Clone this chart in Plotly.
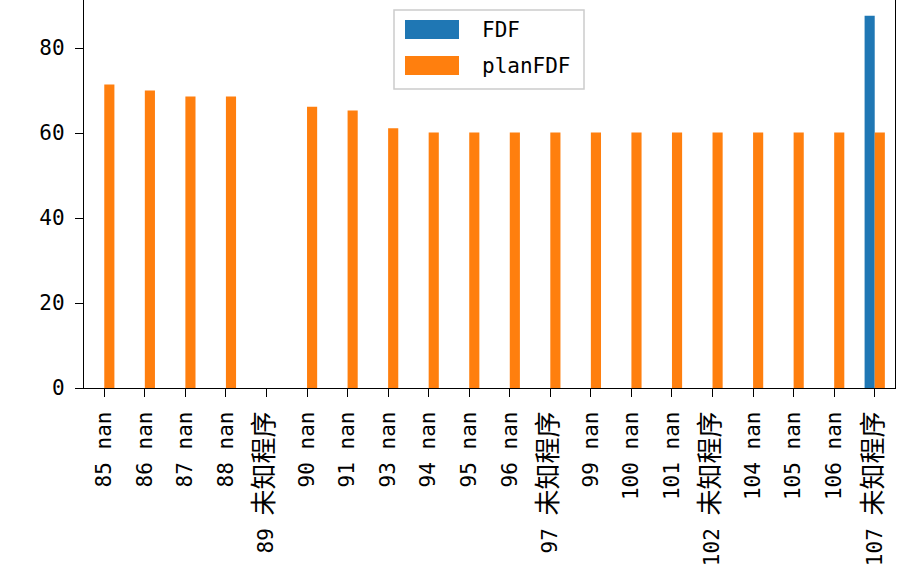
import plotly.graph_objects as go

# ---- data ----
ids = [85, 86, 87, 88, 89, 90, 91, 93, 94, 95, 96, 97, 99, 100, 101, 102, 104, 105, 106, 107]
progs = ["nan", "nan", "nan", "nan", "未知程序", "nan", "nan", "nan", "nan", "nan",
         "nan", "未知程序", "nan", "nan", "nan", "未知程序", "nan", "nan", "nan", "未知程序"]
fdf = [None, None, None, None, None, None, None, None, None, None,
       None, None, None, None, None, None, None, None, None, 87.6]
plan_fdf = [71.4, 70.0, 68.6, 68.6, None, 66.2, 65.3, 61.1, 60.1, 60.1,
            60.1, 60.1, 60.1, 60.1, 60.1, 60.1, 60.1, 60.1, 60.1, 60.1]
y_ticks = [0, 20, 40, 60, 80]

labels = [f"{i} {p}" for i, p in zip(ids, progs)]


def tick_html(i, p):
    if p == "nan":
        tail = p
    else:
        tail = f'<span style="font-size:26px">{p}</span>'
    return f"{i}\u00a0{tail}"


tick_text = [tick_html(i, p) for i, p in zip(ids, progs)]

FONT = "DejaVu Sans Mono, Noto Sans CJK SC, sans-serif"
BLUE = "#1f77b4"
ORANGE = "#ff7f0e"

W, H = 897, 572
ML, MR, MT, MB = 84, 2, 0, 184
PW, PH = W - ML - MR, H - MT - MB

fig = go.Figure()
fig.add_trace(go.Bar(name="FDF", x=labels, y=fdf, marker_color=BLUE,
                     marker_line_width=0, showlegend=False))
fig.add_trace(go.Bar(name="planFDF", x=labels, y=plan_fdf, marker_color=ORANGE,
                     marker_line_width=0, showlegend=False))


def px_x(p):
    return (p - ML) / PW


def px_y(p):
    return (H - MB - p) / PH


# custom legend (matplotlib style)
shapes = [
    dict(type="rect", xref="paper", yref="paper",
         x0=px_x(394), x1=px_x(584), y0=px_y(89), y1=px_y(10),
         line=dict(color="#cccccc", width=1.5), fillcolor="rgba(255,255,255,0.8)", layer="above"),
    dict(type="rect", xref="paper", yref="paper",
         x0=px_x(405), x1=px_x(459), y0=px_y(39), y1=px_y(20),
         line=dict(width=0), fillcolor=BLUE, layer="above"),
    dict(type="rect", xref="paper", yref="paper",
         x0=px_x(405), x1=px_x(459), y0=px_y(75), y1=px_y(56),
         line=dict(width=0), fillcolor=ORANGE, layer="above"),
]
annotations = [
    dict(text="FDF", xref="paper", yref="paper", x=px_x(480), y=px_y(30),
         xanchor="left", yanchor="middle", showarrow=False,
         font=dict(family=FONT, size=21, color="black")),
    dict(text="planFDF", xref="paper", yref="paper", x=px_x(480), y=px_y(66),
         xanchor="left", yanchor="middle", showarrow=False,
         font=dict(family=FONT, size=21, color="black")),
]

fig.update_layout(
    width=W, height=H,
    margin=dict(l=ML, r=MR, t=MT, b=MB, pad=0, autoexpand=False),
    paper_bgcolor="white", plot_bgcolor="white",
    barmode="group", bargap=0.5, bargroupgap=0,
    font=dict(family=FONT, size=21, color="black"),
    shapes=shapes, annotations=annotations,
    showlegend=False,
)
fig.update_xaxes(
    type="category", range=[-0.5, len(labels) - 0.5], automargin=False,
    tickvals=labels, ticktext=tick_text,
    showline=True, linecolor="black", linewidth=1.3, mirror=False,
    ticks="outside", ticklen=8, tickwidth=1.3, tickcolor="black",
    tickangle=-90, ticklabelstandoff=6,
    showgrid=False, zeroline=False,
    tickfont=dict(family=FONT, size=21, color="black"),
)
fig.update_yaxes(
    range=[0, PH / 4.25], automargin=False,
    tickvals=y_ticks, ticktext=[str(v) for v in y_ticks],
    showline=True, linecolor="black", linewidth=1.3, mirror=True,
    ticks="outside", ticklen=8, tickwidth=1.3, tickcolor="black",
    ticklabelstandoff=6,
    showgrid=False, zeroline=False,
    tickfont=dict(family=FONT, size=21, color="black"),
)

fig.write_html("out.html", config={"displayModeBar": False},
               post_script="document.body.style.margin='0';")
